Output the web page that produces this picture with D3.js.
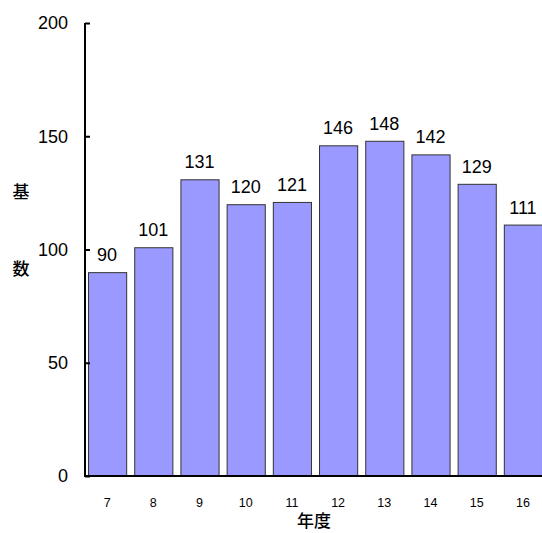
<!DOCTYPE html>
<html>
<head>
<meta charset="utf-8">
<script src="https://cdn.jsdelivr.net/npm/d3@7"></script>
<style>
  html, body { margin: 0; padding: 0; background: #fff; overflow: hidden; }
  svg { display: block; }
  text { font-family: "Liberation Sans", Arial, sans-serif; fill: #000; }
  .cjk { font-family: "Noto Sans CJK JP", "Noto Sans CJK SC", sans-serif; }
</style>
</head>
<body>
<script>
// 年度別の基数
const years = ["7", "8", "9", "10", "11", "12", "13", "14", "15", "16"];
const counts = [90, 101, 131, 120, 121, 146, 148, 142, 129, 111];
const yTicks = [0, 50, 100, 150, 200];

const W = 542, H = 533;
const svg = d3.select("body").append("svg").attr("width", W).attr("height", H);

const x = d3.scaleBand()
  .domain(years)
  .range([84, 546])
  .paddingInner(0.174)
  .paddingOuter(0.087);

const y = d3.scaleLinear().domain([0, 200]).range([476, 23]);

// bars
svg.append("g").selectAll("rect")
  .data(years)
  .join("rect")
  .attr("x", d => x(d) + 0.5)
  .attr("y", (d, i) => y(counts[i]) + 0.5)
  .attr("width", x.bandwidth())
  .attr("height", (d, i) => y(0) - y(counts[i]))
  .attr("fill", "#9999ff")
  .attr("stroke", "#333")
  .attr("stroke-width", 1);

// value labels
svg.append("g").selectAll("text")
  .data(years)
  .join("text")
  .attr("x", d => x(d) + x.bandwidth() / 2)
  .attr("y", (d, i) => y(counts[i]) - 11)
  .attr("text-anchor", "middle")
  .attr("font-size", 18)
  .text((d, i) => counts[i]);

// y axis (ticks pointing inward)
const yAxis = svg.append("g")
  .attr("transform", "translate(85,0)")
  .call(d3.axisRight(y).tickValues(yTicks).tickSize(5).tickFormat(""));
yAxis.select(".domain").attr("stroke", "#000").attr("stroke-width", 2).attr("d", `M0,${y(200)}V${y(0)}`);
yAxis.selectAll(".tick line").attr("stroke", "#000").attr("stroke-width", 2);

svg.append("g").selectAll("text")
  .data(yTicks)
  .join("text")
  .attr("x", 68)
  .attr("y", d => y(d))
  .attr("dy", "0.36em")
  .attr("text-anchor", "end")
  .attr("font-size", 18)
  .text(d => d);

// x axis
const xAxis = svg.append("g")
  .attr("transform", `translate(0,${y(0)})`)
  .call(d3.axisBottom(x).tickSize(0).tickPadding(22));
xAxis.select(".domain").attr("stroke", "#000").attr("stroke-width", 2).attr("d", `M84,0H${W}`);
xAxis.selectAll(".tick text")
  .attr("font-size", 12.5)
  .attr("font-family", "'Liberation Sans', Arial, sans-serif")
  .attr("fill", "#000");

// axis titles
svg.append("text")
  .attr("class", "cjk")
  .attr("x", 314)
  .attr("y", 527)
  .attr("text-anchor", "middle")
  .attr("font-size", 17)
  .attr("font-weight", 500)
  .text("年度");

["基", "数"].forEach((ch, i) => {
  svg.append("text")
    .attr("class", "cjk")
    .attr("x", 21)
    .attr("y", [192, 269][i])
    .attr("dy", "0.36em")
    .attr("text-anchor", "middle")
    .attr("font-size", 17)
    .attr("font-weight", 500)
    .text(ch);
});
</script>
</body>
</html>
